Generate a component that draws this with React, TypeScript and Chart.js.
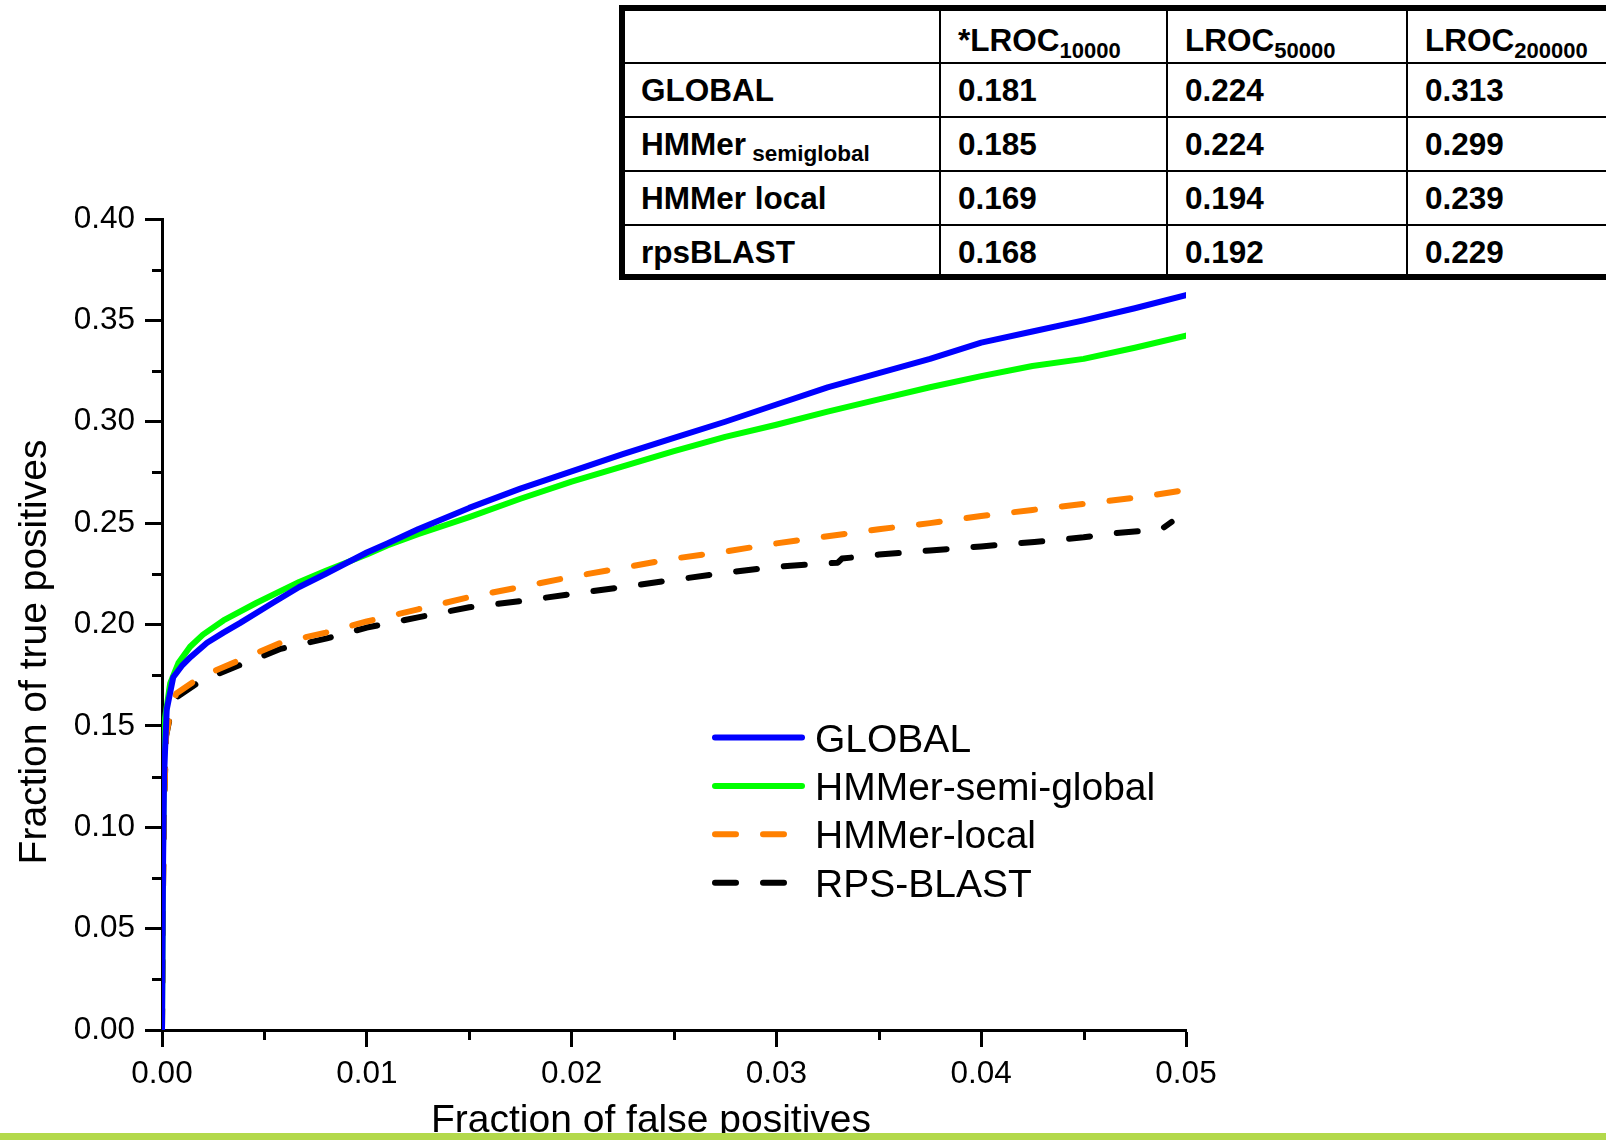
import React, { useEffect, useRef } from "react";
import { Chart, registerables } from "chart.js";

Chart.register(...registerables);

// ---------- Series data (fraction of false positives -> fraction of true positives) ----------
const seriesLabels = ["GLOBAL", "HMMer-semi-global", "HMMer-local", "RPS-BLAST"];
const seriesColors = ["#0000ff", "#00ff00", "#ff8000", "#000000"];

const globalFpr = [0, 0.00005, 0.0001, 0.00015, 0.00023, 0.00055, 0.001, 0.0014, 0.0022, 0.003, 0.0038, 0.0054, 0.0067, 0.008, 0.01, 0.011, 0.0125, 0.015, 0.0175, 0.02, 0.0225, 0.025, 0.0275, 0.03, 0.0325, 0.035, 0.0375, 0.04, 0.0425, 0.045, 0.0475, 0.05];
const globalTpr = [0, 0.08, 0.125, 0.138, 0.158, 0.174, 0.18, 0.184, 0.191, 0.196, 0.2007, 0.2106, 0.2185, 0.225, 0.2355, 0.24, 0.247, 0.2575, 0.267, 0.2755, 0.284, 0.292, 0.3, 0.3085, 0.317, 0.324, 0.331, 0.339, 0.3445, 0.35, 0.356, 0.3625];

const semiFpr = [0, 0.00005, 0.0001, 0.00015, 0.0004, 0.0008, 0.00137, 0.002, 0.003, 0.0046, 0.0067, 0.008, 0.01, 0.011, 0.0125, 0.015, 0.0175, 0.02, 0.0225, 0.025, 0.0275, 0.03, 0.0325, 0.035, 0.0375, 0.04, 0.0425, 0.045, 0.0475, 0.05];
const semiTpr = [0, 0.09, 0.14, 0.154, 0.171, 0.181, 0.189, 0.195, 0.202, 0.2106, 0.221, 0.2265, 0.2345, 0.239, 0.2445, 0.253, 0.262, 0.2705, 0.278, 0.2855, 0.2925, 0.2985, 0.305, 0.311, 0.317, 0.3225, 0.3275, 0.331, 0.3365, 0.3425];

const localFpr = [0, 0.00005, 0.0001, 0.0002, 0.0004, 0.0007, 0.00186, 0.0038, 0.0058, 0.008, 0.01, 0.0125, 0.015, 0.0175, 0.02, 0.0225, 0.025, 0.0275, 0.03, 0.0325, 0.035, 0.0375, 0.04, 0.0425, 0.045, 0.0475, 0.05];
const localTpr = [0, 0.07, 0.11, 0.145, 0.156, 0.166, 0.174, 0.1825, 0.191, 0.196, 0.2015, 0.2075, 0.2135, 0.2185, 0.2235, 0.228, 0.2325, 0.236, 0.24, 0.2435, 0.247, 0.25, 0.2535, 0.2565, 0.2595, 0.2625, 0.2663];

const rpsFpr = [0, 0.00005, 0.0001, 0.0002, 0.0004, 0.0007, 0.00186, 0.0038, 0.0058, 0.008, 0.01, 0.0125, 0.015, 0.0175, 0.02, 0.0225, 0.025, 0.0275, 0.03, 0.033, 0.0332, 0.035, 0.0375, 0.04, 0.0426, 0.045, 0.0465, 0.0488, 0.0493];
const rpsTpr = [0, 0.07, 0.11, 0.145, 0.155, 0.164, 0.172, 0.18, 0.188, 0.193, 0.1985, 0.2035, 0.2085, 0.2115, 0.215, 0.2185, 0.222, 0.2255, 0.2285, 0.2305, 0.2325, 0.2345, 0.2365, 0.2385, 0.2407, 0.243, 0.245, 0.247, 0.2506];

// ---------- Axes ----------
const xAxisTitle = "Fraction of false positives";
const yAxisTitle = "Fraction of true positives";
const xMinorTicks = [0.005, 0.015, 0.025, 0.035, 0.045];
const yMinorTicks = [0.025, 0.075, 0.125, 0.175, 0.225, 0.275, 0.325, 0.375];

// ---------- Table ----------
const tableHeaders = ["", "*LROC", "LROC", "LROC"];
const tableHeaderSubs = ["", "10000", "50000", "200000"];
const tableMethods = ["GLOBAL", "HMMer", "HMMer local", "rpsBLAST"];
const tableMethodSubs = ["", "semiglobal", "", ""];
const lroc10000 = [0.181, 0.185, 0.169, 0.168];
const lroc50000 = [0.224, 0.224, 0.194, 0.192];
const lroc200000 = [0.313, 0.299, 0.239, 0.229];

const FONT = '"Liberation Sans", Arial, Helvetica, sans-serif';

const toPoints = (xs: number[], ys: number[]) => xs.map((x, i) => ({ x, y: ys[i] }));

const minorTicksPlugin = {
  id: "minorTicks",
  afterDraw(chart: any, _args: any, opts: any) {
    const { ctx, chartArea, scales } = chart;
    ctx.save();
    ctx.strokeStyle = "#000";
    ctx.lineWidth = 3;
    for (const v of opts.y) {
      const py = Math.round(scales.y.getPixelForValue(v)) + 0.5;
      ctx.beginPath();
      ctx.moveTo(chartArea.left, py);
      ctx.lineTo(chartArea.left - opts.length, py);
      ctx.stroke();
    }
    for (const v of opts.x) {
      const px = Math.round(scales.x.getPixelForValue(v)) + 0.5;
      ctx.beginPath();
      ctx.moveTo(px, chartArea.bottom);
      ctx.lineTo(px, chartArea.bottom + opts.length);
      ctx.stroke();
    }
    ctx.restore();
  },
};

const axisTitlesPlugin = {
  id: "axisTitles",
  afterDraw(chart: any, _args: any, opts: any) {
    const { ctx } = chart;
    ctx.save();
    ctx.fillStyle = "#000";
    ctx.font = opts.font;
    ctx.textAlign = "center";
    ctx.textBaseline = "alphabetic";
    ctx.fillText(opts.xText, opts.xCenter, opts.xBaseline);
    ctx.translate(opts.yBaseline, opts.yCenter);
    ctx.rotate(-Math.PI / 2);
    ctx.fillText(opts.yText, 0, 0);
    ctx.restore();
  },
};

const lineLegendPlugin = {
  id: "lineLegend",
  afterDraw(chart: any, _args: any, opts: any) {
    const { ctx } = chart;
    chart.data.datasets.forEach((ds: any, i: number) => {
      const y = opts.y + i * opts.rowHeight;
      ctx.save();
      ctx.strokeStyle = ds.borderColor;
      ctx.lineWidth = ds.borderWidth;
      ctx.lineCap = "round";
      ctx.setLineDash(ds.borderDash || []);
      ctx.beginPath();
      ctx.moveTo(opts.x, y);
      ctx.lineTo(opts.x + opts.lineLength, y);
      ctx.stroke();
      ctx.setLineDash([]);
      ctx.fillStyle = "#000";
      ctx.font = opts.font;
      ctx.textAlign = "left";
      ctx.textBaseline = "alphabetic";
      ctx.fillText(ds.label, opts.x + opts.lineLength + opts.gap, y + opts.baselineOffset);
      ctx.restore();
    });
  },
};

function ChartCanvas() {
  const ref = useRef<HTMLCanvasElement | null>(null);
  useEffect(() => {
    if (!ref.current) return;
    const xs = [globalFpr, semiFpr, localFpr, rpsFpr];
    const ys = [globalTpr, semiTpr, localTpr, rpsTpr];
    const dashes = [[], [], [21, 27], [21, 27]];
    const datasets = seriesLabels.map((label, i) => ({
      label,
      data: toPoints(xs[i], ys[i]),
      borderColor: seriesColors[i],
      backgroundColor: seriesColors[i],
      borderWidth: 6,
      borderDash: dashes[i],
      borderCapStyle: "round" as const,
      borderJoinStyle: "round" as const,
      pointRadius: 0,
      tension: 0,
      fill: false,
    }));
    const chart = new Chart(ref.current, {
      type: "line",
      data: { datasets },
      plugins: [minorTicksPlugin, axisTitlesPlugin, lineLegendPlugin],
      options: {
        animation: false,
        responsive: false,
        devicePixelRatio: 1,
        layout: { padding: { left: 0, right: 420, top: 219, bottom: 0 } },
        plugins: {
          legend: { display: false },
          tooltip: { enabled: false },
          minorTicks: { x: xMinorTicks, y: yMinorTicks, length: 10 },
          axisTitles: {
            font: `39px ${FONT}`,
            xText: xAxisTitle,
            xCenter: 651,
            xBaseline: 1132,
            yText: yAxisTitle,
            yCenter: 652,
            yBaseline: 46,
          },
          lineLegend: {
            x: 715,
            y: 737.5,
            rowHeight: 48.4,
            lineLength: 87,
            gap: 13,
            baselineOffset: 14,
            font: `39px ${FONT}`,
          },
        } as any,
        scales: {
          x: {
            type: "linear",
            min: 0,
            max: 0.05,
            afterFit: (s: any) => {
              s.height = 110;
            },
            border: { display: true, color: "#000", width: 3 },
            grid: {
              display: true,
              drawOnChartArea: false,
              drawTicks: true,
              tickLength: 17,
              tickWidth: 3,
              tickColor: "#000",
            },
            ticks: {
              stepSize: 0.01,
              autoSkip: false,
              maxRotation: 0,
              padding: 8,
              color: "#000",
              font: { family: FONT, size: 31.5 },
              callback: (v: any) => Number(v).toFixed(2),
            },
          },
          y: {
            type: "linear",
            min: 0,
            max: 0.4,
            afterFit: (s: any) => {
              s.width = 162;
            },
            border: { display: true, color: "#000", width: 3 },
            grid: {
              display: true,
              drawOnChartArea: false,
              drawTicks: true,
              tickLength: 17,
              tickWidth: 3,
              tickColor: "#000",
            },
            ticks: {
              stepSize: 0.05,
              autoSkip: false,
              padding: 10,
              color: "#000",
              font: { family: FONT, size: 31.5 },
              callback: (v: any) => Number(v).toFixed(2),
            },
          },
        },
      },
    });
    return () => chart.destroy();
  }, []);
  return <canvas ref={ref} width={1606} height={1140} style={{ position: "absolute", left: 0, top: 0, width: 1606, height: 1140 }} />;
}

const colWidths = [314, 227, 240, 240];
const rowHeights = [51, 54, 54, 54, 50];

function LrocTable() {
  const cellBase = (r: number, c: number): React.CSSProperties => ({
    boxSizing: "border-box",
    borderLeft: c > 0 ? "2px solid #000" : "none",
    borderTop: r > 0 ? "2px solid #000" : "none",
    paddingLeft: c > 0 ? 17 : 16,
    paddingTop: r === 0 ? 14 : 10.5,
    lineHeight: "30px",
    whiteSpace: "nowrap",
    overflow: "hidden",
  });
  const values = [lroc10000, lroc50000, lroc200000];
  const cells: React.ReactNode[] = [];
  tableHeaders.forEach((h, c) => {
    cells.push(
      <div key={`h${c}`} style={cellBase(0, c)}>
        {h}
        {tableHeaderSubs[c] ? (
          <span style={{ fontSize: 22, verticalAlign: -7, lineHeight: 0 }}>{tableHeaderSubs[c]}</span>
        ) : null}
      </div>
    );
  });
  tableMethods.forEach((m, r) => {
    cells.push(
      <div key={`m${r}`} style={cellBase(r + 1, 0)}>
        {m}
        {tableMethodSubs[r] ? (
          <span style={{ fontSize: 22.5, verticalAlign: -6, lineHeight: 0 }}>{" " + tableMethodSubs[r]}</span>
        ) : null}
      </div>
    );
    values.forEach((arr, k) => {
      cells.push(
        <div key={`v${r}-${k}`} style={cellBase(r + 1, k + 1)}>
          {arr[r].toFixed(3)}
        </div>
      );
    });
  });
  return (
    <div
      style={{
        position: "absolute",
        left: 619,
        top: 5,
        borderTop: "6px solid #000",
        borderLeft: "6px solid #000",
        borderBottom: "6px solid #000",
        background: "#fff",
        display: "grid",
        gridTemplateColumns: colWidths.map((w) => `${w}px`).join(" "),
        gridTemplateRows: rowHeights.map((h) => `${h}px`).join(" "),
        fontFamily: FONT,
        fontWeight: "bold",
        fontSize: 31.5,
        color: "#000",
      }}
    >
      {cells}
    </div>
  );
}

export default function App() {
  return (
    <div
      style={{
        position: "fixed",
        left: 0,
        top: 0,
        width: 1606,
        height: 1140,
        overflow: "hidden",
        background: "#fff",
      }}
    >
      <ChartCanvas />
      <LrocTable />
      <div style={{ position: "absolute", left: 0, top: 1133, width: 1606, height: 7, background: "#b3d94b" }} />
    </div>
  );
}
